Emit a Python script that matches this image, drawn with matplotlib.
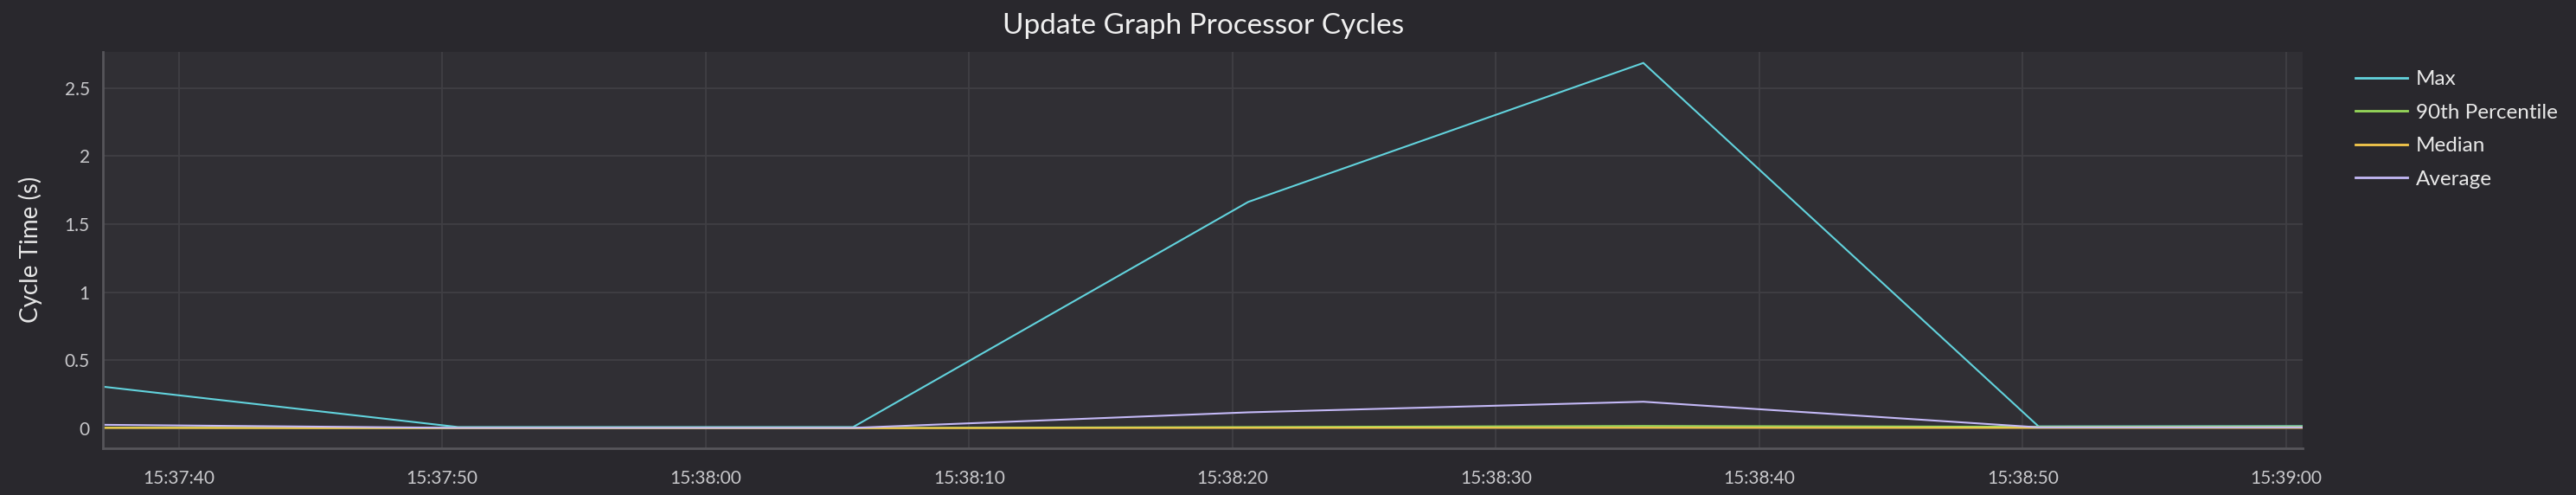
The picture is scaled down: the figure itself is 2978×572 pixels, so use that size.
import datetime as dt
import matplotlib
matplotlib.use("Agg")
import matplotlib.pyplot as plt
import matplotlib.dates as mdates
from matplotlib.ticker import FuncFormatter, FixedLocator

# ---- data ----
times = ["15:37:35.6", "15:37:50.6", "15:38:05.6", "15:38:20.6",
         "15:38:35.6", "15:38:50.6", "15:39:05.6"]
max_vals = [0.34, 0.01, 0.01, 1.664, 2.685, 0.015, 0.018]
p90_vals = [0.006, 0.003, 0.003, 0.010, 0.018, 0.012, 0.015]
median_vals = [0.004, 0.002, 0.002, 0.004, 0.005, 0.004, 0.004]
avg_vals = [0.029, 0.004, 0.004, 0.118, 0.196, 0.008, 0.008]
series_names = ["Max", "90th Percentile", "Median", "Average"]
series_colors = ["#62d3dd", "#96d85a", "#f5c84b", "#c4b9f7"]
x_tick_labels = ["15:37:40", "15:37:50", "15:38:00", "15:38:10", "15:38:20",
                 "15:38:30", "15:38:40", "15:38:50", "15:39:00"]
y_ticks = [0, 0.5, 1, 1.5, 2, 2.5]
x_window = ["15:37:37.12", "15:39:00.63"]
y_window = [-0.146, 2.766]

BASE = dt.date(2024, 1, 1)


def to_dt(s):
    t = dt.datetime.strptime(s, "%H:%M:%S.%f" if "." in s else "%H:%M:%S")
    return dt.datetime.combine(BASE, t.time())


x = [to_dt(t) for t in times]

FIG_BG = "#29282d"
AX_BG = "#302f34"
GRID = "#403f44"
SPINE = "#56555a"
TICK_TXT = "#c9c9cc"
FONT = ["Lato", "DejaVu Sans"]
plt.rcParams["font.family"] = FONT

fig = plt.figure(figsize=(29.78, 5.72), dpi=100, facecolor=FIG_BG)
ax = fig.add_axes([119 / 2978, 1 - 518 / 572, (2662 - 119) / 2978, (518 - 60) / 572])
ax.set_facecolor(AX_BG)

for vals, name, col in zip([max_vals, p90_vals, median_vals, avg_vals],
                           series_names, series_colors):
    ax.plot(x, vals, color=col, lw=1.5, label=name, solid_joinstyle="miter")

ax.set_xlim(to_dt(x_window[0]), to_dt(x_window[1]))
ax.set_ylim(*y_window)

ax.xaxis.set_major_locator(FixedLocator([mdates.date2num(to_dt(t)) for t in x_tick_labels]))
ax.xaxis.set_major_formatter(mdates.DateFormatter("%H:%M:%S"))
ax.yaxis.set_major_locator(FixedLocator(y_ticks))
ax.yaxis.set_major_formatter(FuncFormatter(lambda v, p: ("%g" % v)))

ax.grid(True, color=GRID, lw=1.3)
ax.set_axisbelow(True)
ax.tick_params(axis="both", length=0, colors=TICK_TXT, labelsize=15)
ax.tick_params(axis="x", pad=18)
ax.tick_params(axis="y", pad=11)

for s in ["top", "right"]:
    ax.spines[s].set_visible(False)
for s in ["left", "bottom"]:
    ax.spines[s].set_color(SPINE)
    ax.spines[s].set_linewidth(2)

fig.text(35 / 2978, 1 - 288 / 572, "Cycle Time (s)", rotation=90, ha="center",
         va="center", color="#e8e8e8", fontsize=20)
fig.text(1391 / 2978, 1 - 39 / 572, "Update Graph Processor Cycles", ha="center",
         va="baseline", color="#f0f0f0", fontsize=24)

leg = fig.legend(loc="upper left", bbox_to_anchor=(2723 / 2978, 1 - 81 / 572),
                 frameon=False, fontsize=17.5, handlelength=2.45, handletextpad=0.42,
                 labelspacing=0.72, borderpad=0, borderaxespad=0)
for t in leg.get_texts():
    t.set_color("#e8e8e8")
for h in leg.legend_handles:
    h.set_linewidth(2)

fig.savefig("out.png", dpi=100, facecolor=FIG_BG)
